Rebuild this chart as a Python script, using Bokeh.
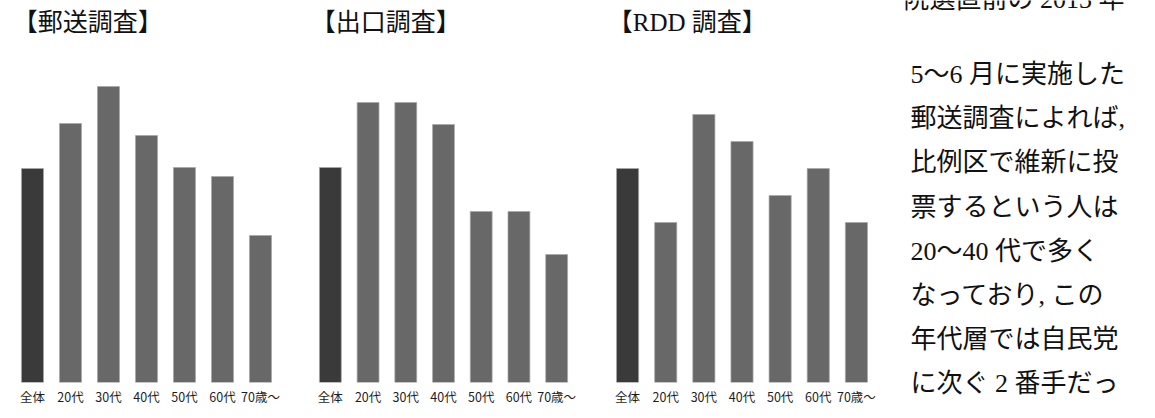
from bokeh.plotting import figure
from bokeh.layouts import row
from bokeh.models import Range1d, FactorRange, Label, ColumnDataSource
from bokeh.core.properties import value
from bokeh.embed import file_html
from bokeh.resources import INLINE

# Age groups shared by all three surveys
categories = ["全体", "20代", "30代", "40代", "50代", "60代", "70歳〜"]

# Ishin vote intention by age group, per survey
mail_survey = [21.4, 25.9, 29.6, 24.7, 21.5, 20.6, 14.7]
exit_poll = [21.5, 28.0, 28.0, 25.8, 17.1, 17.1, 12.8]
rdd_survey = [21.4, 16.0, 26.8, 24.1, 18.7, 21.4, 16.0]

titles = ["【郵送調査】", "【出口調査】", "【RDD 調査】"]

# Running text beside the charts
body_lines = [
    "院選直前の 2013 年",
    "5〜6 月に実施した",
    "郵送調査によれば,",
    "比例区で維新に投",
    "票するという人は",
    "20〜40 代で多く",
    "なっており, この",
    "年代層では自民党",
    "に次ぐ 2 番手だっ",
]

SERIF_JP = "Liberation Serif, Noto Sans CJK JP"
SANS_JP = "Noto Sans CJK JP"
TOTAL_COLOR = "#3a3a3a"
AGE_COLOR = "#686868"


def survey_chart(vals, title, width, left, right):
    colors = [TOTAL_COLOR] + [AGE_COLOR] * (len(vals) - 1)
    src = ColumnDataSource(dict(cat=categories, val=vals, color=colors))
    p = figure(
        x_range=FactorRange(*categories, range_padding=0, factor_padding=0),
        y_range=Range1d(0, 38.2),
        width=width, height=418,
        min_border_left=left, min_border_right=right,
        min_border_top=0, min_border_bottom=36,
        y_axis_location=None,
        toolbar_location=None, output_backend="svg",
    )
    p.vbar(x="cat", top="val", width=0.58, source=src,
           fill_color="color", line_color="#a8a8a8", line_alpha=0.7, line_width=1)
    ax = p.xaxis[0]
    ax.axis_line_color = None
    ax.major_tick_line_color = None
    ax.minor_tick_line_color = None
    ax.major_label_standoff = -2
    ax.major_label_text_font = SANS_JP
    ax.major_label_text_font_size = "12.5px"
    ax.major_label_text_color = "#1e1e1e"
    p.xgrid.grid_line_color = None
    p.ygrid.grid_line_color = None
    p.outline_line_color = None
    p.background_fill_color = "white"
    p.border_fill_color = "white"
    p.add_layout(Label(x=-0.02, y=36.0, text=title, text_font=SERIF_JP,
                       text_font_size="25px", text_color="#111111",
                       text_baseline="middle", text_align="left"))
    return p


p1 = survey_chart(mail_survey, titles[0], 297, 13, 18)
p2 = survey_chart(exit_poll, titles[1], 297, 14, 19)
p3 = survey_chart(rdd_survey, titles[2], 287, 14, 6)

# Text column, laid out in pixel units (y grows downward)
pt = figure(
    x_range=Range1d(0, 274), y_range=Range1d(418, 0),
    width=274, height=418,
    min_border_left=0, min_border_right=0, min_border_top=0, min_border_bottom=0,
    x_axis_location=None, y_axis_location=None,
    toolbar_location=None, output_backend="svg",
)
pt.frame_align = False
pt.xgrid.grid_line_color = None
pt.ygrid.grid_line_color = None
pt.outline_line_color = None
line_y = [-1] + [74 + 44.2 * i for i in range(len(body_lines) - 1)]
line_x = [22] + [29] * (len(body_lines) - 1)
pt.text(x=line_x, y=line_y, text=body_lines, text_font=value(SERIF_JP),
        text_font_size="26px", text_color="#111111",
        text_baseline="middle", text_align="left")

layout = row(p1, p2, p3, pt, spacing=0)
open("out.html", "w").write(file_html(layout, INLINE))
